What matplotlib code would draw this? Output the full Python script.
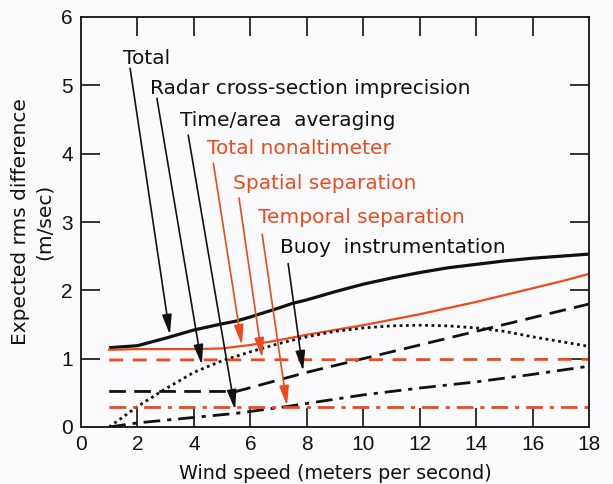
import matplotlib
matplotlib.use("Agg")
import matplotlib.pyplot as plt

plt.rcParams['font.family'] = ['Liberation Sans', 'DejaVu Sans']

RED = '#EE4A1E'
BLACK = '#111111'

# Total (black solid)
total_x = [1, 2, 3, 4, 5, 5.5, 6, 7, 7.5, 8, 9, 10, 11, 12, 13, 14, 15, 16, 17, 18]
total_y = [1.16, 1.19, 1.30, 1.42, 1.51, 1.55, 1.61, 1.74, 1.81, 1.86, 1.98, 2.09, 2.18, 2.26, 2.33, 2.38, 2.43, 2.47, 2.50, 2.53]

# Total nonaltimeter (red solid)
nonalt_x = [1, 2, 3, 4, 5, 6, 7, 8, 9, 10, 11, 12, 13, 14, 15, 16, 17, 18]
nonalt_y = [1.13, 1.14, 1.14, 1.14, 1.15, 1.20, 1.27, 1.35, 1.42, 1.49, 1.57, 1.65, 1.74, 1.83, 1.93, 2.03, 2.13, 2.24]

# Radar cross-section imprecision (black dotted)
radar_x = [1, 2, 3, 4, 5, 6, 7, 8, 9, 10, 11, 12, 13, 14, 15, 16, 17, 18]
radar_y = [0.0, 0.30, 0.56, 0.80, 0.97, 1.10, 1.22, 1.32, 1.40, 1.45, 1.48, 1.49, 1.48, 1.45, 1.40, 1.32, 1.25, 1.18]

# Time/area averaging (black dash-dot)
timearea_x = [1, 2, 4, 5.5, 7.3, 10, 12, 14, 16, 18]
timearea_y = [0.0, 0.06, 0.14, 0.20, 0.30, 0.47, 0.57, 0.66, 0.77, 0.89]

# Buoy instrumentation (black dashed)
buoy_x = [1, 3, 5.5, 8, 10, 12, 14, 16, 18]
buoy_y = [0.52, 0.52, 0.52, 0.80, 1.00, 1.20, 1.40, 1.60, 1.80]

# Spatial separation (red dashed)
spatial_x = [1, 18]
spatial_y = [0.98, 0.99]

# Temporal separation (red dash-dot)
temporal_x = [1, 18]
temporal_y = [0.29, 0.29]

# Labels: text, text position, arrow tail, arrow tip, color
labels = ['Total', 'Radar cross-section imprecision', 'Time/area  averaging',
          'Total nonaltimeter', 'Spatial separation', 'Temporal separation',
          'Buoy  instrumentation']
label_x = [1.49, 2.45, 3.5, 4.47, 5.4, 6.27, 7.05]
label_y = [5.4, 4.96, 4.49, 4.07, 3.57, 3.06, 2.62]
tail_x = [1.74, 2.69, 3.8, 4.69, 5.6, 6.42, 7.34]
tail_y = [5.25, 4.81, 4.27, 3.86, 3.35, 2.82, 2.39]
tip_x = [3.15, 4.28, 5.46, 5.7, 6.42, 7.3, 7.87]
tip_y = [1.35, 0.91, 0.25, 1.2, 1.01, 0.31, 0.82]
label_colors = [BLACK, BLACK, BLACK, RED, RED, RED, BLACK]

xticks = [0, 2, 4, 6, 8, 10, 12, 14, 16, 18]
yticks = [0, 1, 2, 3, 4, 5, 6]

fig = plt.figure(figsize=(6.13, 4.84), dpi=100)
fig.patch.set_facecolor('#FBFAFC')
ax = fig.add_axes([81/613, 1-427/484, 508/613, 410/484])
ax.set_facecolor('#FBFAFC')

ax.plot(total_x, total_y, color=BLACK, lw=2.3, solid_capstyle='butt')
ax.plot(nonalt_x, nonalt_y, color=RED, lw=1.6)
ax.plot(radar_x, radar_y, color=BLACK, lw=2.0, linestyle=(0, (1.0, 1.3)))
ax.plot(timearea_x, timearea_y, color=BLACK, lw=2.0, linestyle=(0, (6, 2.5, 1.5, 2.5)))
ax.plot(buoy_x, buoy_y, color=BLACK, lw=2.0, linestyle=(0, (6, 3)))
ax.plot(spatial_x, spatial_y, color=RED, lw=2.0, linestyle=(0, (5, 3.5)))
ax.plot(temporal_x, temporal_y, color=RED, lw=2.0, linestyle=(0, (6, 2.5, 1.5, 2.5)))

for t, lx, ly, ax0, ay0, ax1, ay1, c in zip(labels, label_x, label_y, tail_x, tail_y,
                                             tip_x, tip_y, label_colors):
    ax.text(lx, ly, t, color=c, fontsize=14.5, va='center', ha='left',
            family='DejaVu Sans')
    ax.annotate('', xy=(ax1, ay1), xytext=(ax0, ay0),
                arrowprops=dict(arrowstyle='-|>,head_length=0.75,head_width=0.18',
                                color=c, lw=1.2, mutation_scale=16,
                                shrinkA=0, shrinkB=0))

ax.set_xlim(0, 18)
ax.set_ylim(0, 6)
ax.set_xticks(xticks)
ax.set_yticks(yticks)
ax.tick_params(direction='in', length=14, width=1.2, top=True, right=True,
               labelsize=15, colors=BLACK, pad=6)
for s in ax.spines.values():
    s.set_linewidth(1.3)
    s.set_color(BLACK)
# hide tick marks at the corners
for tl in (ax.xaxis.get_major_ticks()[0], ax.xaxis.get_major_ticks()[-1],
           ax.yaxis.get_major_ticks()[0], ax.yaxis.get_major_ticks()[-1]):
    tl.tick1line.set_visible(False)
    tl.tick2line.set_visible(False)

ax.set_xlabel('Wind speed (meters per second)', fontsize=13.8, color=BLACK, labelpad=7,
              family='DejaVu Sans')
ax.set_ylabel('Expected rms difference\n(m/sec)', fontsize=14.5, color=BLACK, labelpad=5,
              linespacing=1.3, family='DejaVu Sans')

fig.savefig('out.png', dpi=100, facecolor=fig.get_facecolor())
